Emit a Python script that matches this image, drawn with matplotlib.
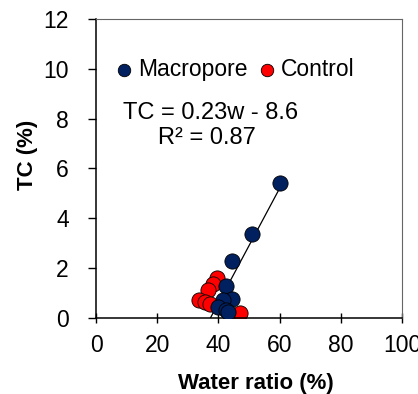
import matplotlib
matplotlib.use("Agg")
import matplotlib.pyplot as plt
import numpy as np

plt.rcParams['font.family'] = ['Liberation Sans', 'DejaVu Sans']

macro_w = [60.1, 51.0, 44.5, 42.4, 44.5, 41.5, 40.0, 42.5, 43.0]
macro_tc = [5.4, 3.35, 2.3, 1.28, 0.75, 0.72, 0.42, 0.30, 0.25]
ctrl_w = [39.4, 38.3, 36.7, 33.8, 35.6, 37.3, 47.1]
ctrl_tc = [1.62, 1.38, 1.12, 0.72, 0.65, 0.57, 0.18]
slope = 0.23
intercept = -8.6
xticks = [0, 20, 40, 60, 80, 100]
yticks = [0, 2, 4, 6, 8, 10, 12]

fig = plt.figure(figsize=(4.18, 3.94), dpi=100)
ax = fig.add_axes([0.2297, 0.193, 0.732, 0.759])

x0 = -intercept / slope
x1 = max(macro_w)
xl = np.array([x0, x1])
ax.plot(xl, slope * xl + intercept, color='black', lw=0.9, zorder=1)

ax.scatter(macro_w, macro_tc, s=120, color='#002060', edgecolor='black', linewidth=0.6,
           zorder=3, label='Macropore')
ax.scatter(ctrl_w, ctrl_tc, s=120, color='#FF0000', edgecolor='black', linewidth=0.6,
           zorder=2, label='Control')

ax.set_xlim(0, 100)
ax.set_ylim(0, 12)
ax.set_xticks(xticks)
ax.set_yticks(yticks)
ax.tick_params(axis='x', direction='inout', length=7, width=1, labelsize=16.5, pad=8)
ax.tick_params(axis='y', direction='out', length=5.5, width=1, labelsize=16.5, pad=14)
for side in ['left', 'bottom']:
    ax.spines[side].set_linewidth(1.1)
    ax.spines[side].set_color('black')
for side in ['top', 'right']:
    ax.spines[side].set_linewidth(0.8)
    ax.spines[side].set_color('#666666')

ax.set_xlabel('Water ratio (%)', fontsize=16, fontweight='bold')
ax.set_ylabel('TC (%)', fontsize=16, fontweight='bold')
ax.xaxis.set_label_coords(0.523, -0.185)
ax.yaxis.set_label_coords(-0.19, 0.545)

leg = ax.legend(loc='upper left', bbox_to_anchor=(-0.013, 0.9), ncol=2, frameon=False,
                fontsize=16.5, handletextpad=-0.4, columnspacing=-0.15, borderaxespad=0,
                markerscale=0.82)

ax.text(37.6, 8.23, 'TC = 0.23w - 8.6', fontsize=17, ha='center', va='center')
ax.text(36.3, 7.23, 'R² = 0.87', fontsize=17, ha='center', va='center')

fig.savefig('out.png', dpi=100)
